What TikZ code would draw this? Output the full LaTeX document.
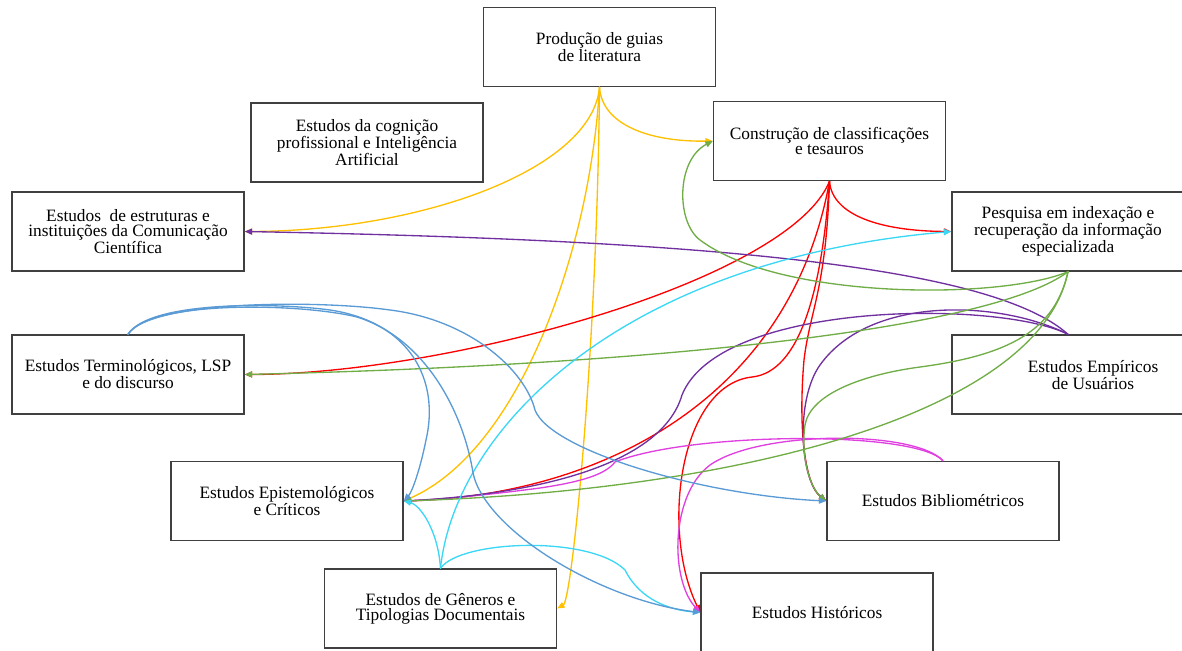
\documentclass[tikz,border=0pt]{standalone}
\usepackage{fontspec}
\setmainfont{Liberation Serif}
\usetikzlibrary{arrows.meta}

\definecolor{boxline}{HTML}{404040}
\definecolor{lnyellow}{HTML}{FFC000}
\definecolor{lnred}{HTML}{FF0000}
\definecolor{lnpurple}{HTML}{7030A0}
\definecolor{lngreen}{HTML}{70AD47}
\definecolor{lncyan}{HTML}{3CD7F5}
\definecolor{lnblue}{HTML}{5B9BD5}
\definecolor{lnmagenta}{HTML}{E040E0}

\tikzset{
  box/.style={draw=boxline, line width=1.1pt, minimum width=174pt,
    minimum height=59.25pt, inner sep=0pt, align=center,
    font=\fontsize{13pt}{11.3pt}\selectfont},
  boxtext/.style={inner sep=0pt, align=center,
    font=\fontsize{13pt}{11.3pt}\selectfont},
  link/.style={line width=1pt, line cap=round,
    -{Triangle[length=5.5pt,width=4.5pt]}},
}

\begin{document}
\begin{tikzpicture}[x=0.75pt, y=-0.75pt]
\useasboundingbox (0,0) rectangle (1182,650);

% topic boxes
\node[box] (prod) at (599.5,47)  {Produção de guias\\de literatura};
\node[box] (cog)  at (367,142.5) {Estudos da cognição\\profissional e Inteligência\\Artificial};
\node[box] (cons) at (829.5,141) {Construção de classificações\\e tesauros};
\node[box] (estr) at (128,231.5) {Estudos\ \ de estruturas e\\instituições da Comunicação\\Científica};
\node[box] (pesq) at (1068,231.5) {Pesquisa em indexação e\\recuperação da informação\\especializada};
\node[box] (term) at (128,374.5) {Estudos Terminológicos, LSP\\e do discurso};
\node[box] (emp)  at (1068,374.5) {};
\node[boxtext] (empt) at (1093,375) {Estudos Empíricos\\de Usuários};
\node[box] (epis) at (287,501)   {Estudos Epistemológicos\\e Críticos};
\node[box] (bib)  at (943,501)   {Estudos Bibliométricos};
\node[box] (gen)  at (440.5,608.5) {Estudos de Gêneros e\\Tipologias Documentais};
\node[box] (hist) at (817,612.5) {Estudos Históricos};

% from the literature guides
\draw[link, lnyellow] (prod.south) .. controls (602,125) and (650,142) .. (cons.west);
\draw[link, lnyellow] (prod.south) .. controls (592,170) and (420,231) .. (estr.east);
\draw[link, lnyellow] (prod.south) .. controls (590,250) and (520,450) .. (epis.east);
\draw[link, lnyellow] (prod.south) .. controls (597,350) and (572,600) .. (gen.east);

% from classifications and thesauri
\draw[link, lnred] (cons.south) .. controls (832,215) and (880,231) .. (pesq.west);
\draw[link, lnred] (cons.south) .. controls (790,280) and (450,374) .. (term.east);
\draw[link, lnred] (cons.south) .. controls (790,400) and (600,495) .. (epis.east);
\draw[link, lnred] (cons.south) .. controls (826,290) and (810,310) .. (804,360)
  .. controls (798,430) and (805,485) .. (bib.west);
\draw[link, lnred] (cons.south) .. controls (822,290) and (800,372) .. (752,377)
  .. controls (680,385) and (660,530) .. (hist.west);

% from bibliometrics
\draw[link, lnmagenta] (bib.north) .. controls (915,430) and (690,432) .. (615,462)
  .. controls (605,475) and (580,482) .. (540,488)
  .. controls (480,496) and (430,500) .. (epis.east);
\draw[link, lnmagenta] (bib.north) .. controls (915,430) and (760,430) .. (710,465)
  .. controls (670,495) and (670,580) .. (hist.west);

% from user studies
\draw[link, lnpurple] (emp.north) .. controls (990,265) and (700,240) .. (estr.east);
\draw[link, lnpurple] (emp.north) .. controls (1000,300) and (720,300) .. (682,395)
  .. controls (660,470) and (520,495) .. (epis.east);
\draw[link, lnpurple] (emp.north) .. controls (1000,300) and (870,295) .. (820,365)
  .. controls (795,400) and (800,480) .. (bib.west);

% from indexing and retrieval
\draw[link, lngreen] (pesq.south) .. controls (1000,300) and (780,300) .. (700,240)
  .. controls (676,222) and (676,160) .. (cons.west);
\draw[link, lngreen] (pesq.south) .. controls (990,330) and (650,365) .. (term.east);
\draw[link, lngreen] (pesq.south) .. controls (1040,410) and (750,490) .. (epis.east);
\draw[link, lngreen] (pesq.south) .. controls (1055,330) and (1010,355) .. (920,367)
  .. controls (860,375) and (810,395) .. (805,425)
  .. controls (800,460) and (812,490) .. (bib.west);

% from genres and document typologies
\draw[link, lncyan] (gen.north) .. controls (455,430) and (620,260) .. (pesq.west);
\draw[link, lncyan] (gen.north) .. controls (438,530) and (420,505) .. (epis.east);
\draw[link, lncyan] (gen.north) .. controls (460,540) and (590,535) .. (625,570)
  .. controls (640,600) and (670,610) .. (hist.west);

% from terminology and discourse
\draw[link, lnblue] (term.north) .. controls (150,300) and (280,303) .. (330,310)
  .. controls (410,322) and (440,380) .. (426,440)
  .. controls (420,470) and (412,492) .. (epis.east);
\draw[link, lnblue] (term.north) .. controls (150,300) and (300,303) .. (357,317)
  .. controls (430,340) and (465,420) .. (473,473)
  .. controls (485,530) and (600,600) .. (hist.west);
\draw[link, lnblue] (term.north) .. controls (150,300) and (320,300) .. (390,310)
  .. controls (470,320) and (525,370) .. (535,410)
  .. controls (550,450) and (700,495) .. (bib.west);
\end{tikzpicture}
\end{document}
